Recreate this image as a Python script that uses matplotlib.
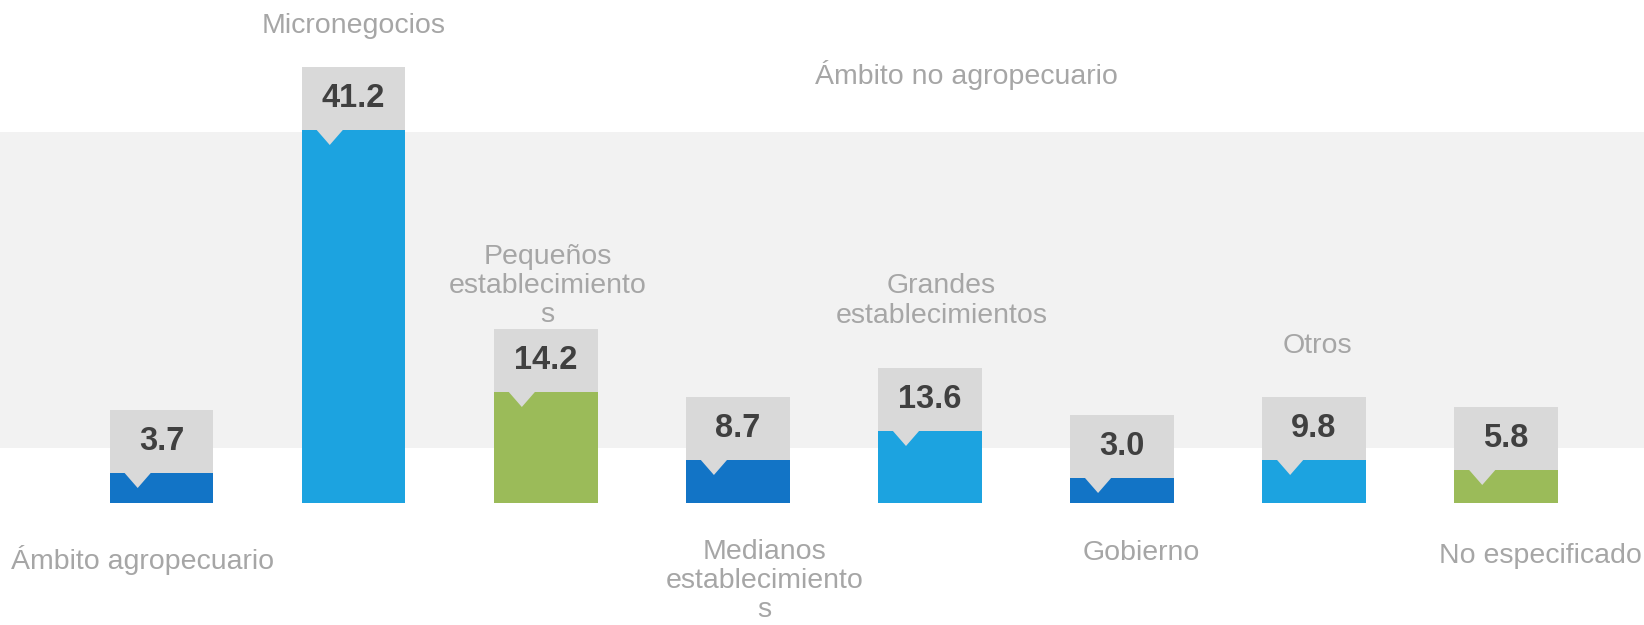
import numpy as np
import matplotlib.pyplot as plt
from matplotlib.patches import Rectangle

# datos
categorias = ["Ámbito agropecuario", "Micronegocios", "Pequeños\nestablecimiento\ns",
              "Medianos\nestablecimiento\ns", "Grandes\nestablecimientos", "Gobierno",
              "Otros", "No especificado"]
valores = [3.7, 41.2, 14.2, 8.7, 13.6, 3.0, 9.8, 5.8]
# alto visual de cada barra en la imagen (no es proporcional al valor)
alto_barra = [30, 373, 111, 43, 72, 25, 43, 33]
grupo = "Ámbito no agropecuario"

azul = "#1274c6"
celeste = "#1ca3e0"
verde = "#9bbb59"
colores = [azul, celeste, verde, azul, celeste, azul, celeste, verde]

# posicion de las etiquetas (desplazamiento en x, centro en y)
etiqueta_dx = [-0.10, 0.0, 0.01, 0.14, 0.06, 0.10, 0.02, 0.18]
etiqueta_y = [-57, 477, 217, -78, 202, -50, 157, -53]

plt.rcParams['font.family'] = ['Liberation Sans', 'DejaVu Sans']

fig = plt.figure(figsize=(16.44, 6.25), dpi=100)
ax = fig.add_axes([0, 0, 1, 1])
ax.set_xlim(-0.841, 7.718)
ax.set_ylim(-122, 503)
ax.axis('off')

px = 1 / 192.08  # un pixel en unidades de x
ancho = 0.54
caja = 63

ax.axhspan(55, 371, color="#f2f2f2", zorder=0, lw=0)

x = np.arange(len(valores))
ax.bar(x, alto_barra, width=ancho, color=colores, zorder=2, lw=0)

for i, (v, h) in enumerate(zip(valores, alto_barra)):
    izq = i - ancho / 2
    ax.add_patch(Rectangle((izq, h), ancho, caja, color="#d9d9d9", lw=0, zorder=3))
    punta = izq + 28 * px
    ax.fill([punta - 13.5 * px, punta + 13.5 * px, punta], [h + 0.5, h + 0.5, h - 15],
            color="#d9d9d9", lw=0, zorder=3)
    ax.text(i, h + caja / 2, f"{v:.1f}", ha='center', va='center', fontsize=23.5,
            fontweight='bold', color="#404040", zorder=4)
    ax.text(i + etiqueta_dx[i], etiqueta_y[i], categorias[i], ha='center', va='center',
            fontsize=20.5, color="#a6a6a6", linespacing=1.17, zorder=4)

ax.text(4.19, 428, grupo, ha='center', va='center', fontsize=20.5, color="#a6a6a6")

fig.savefig("out.png", dpi=100)
